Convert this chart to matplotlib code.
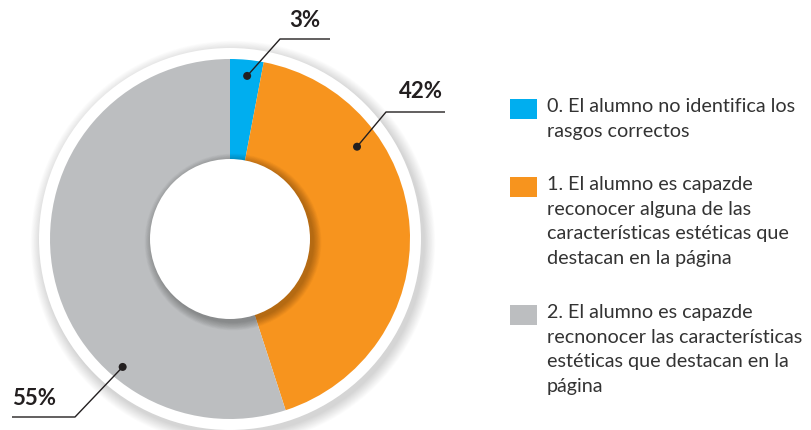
import numpy as np
import matplotlib
matplotlib.use("Agg")
import matplotlib.pyplot as plt
from matplotlib.patches import Circle, Rectangle

# ---- data ----
categories = [
    "0. El alumno no identifica los\nrasgos correctos",
    "1. El alumno es capazde\nreconocer alguna de las\ncaracterísticas estéticas que\ndestacan en la página",
    "2. El alumno es capazde\nrecnonocer las características\nestéticas que destacan en la\npágina",
]
values = [3, 42, 55]
pct_labels = ["3%", "42%", "55%"]
colors = ["#00AEEF", "#F7941E", "#BCBEC0"]

W, H = 812, 431
fig = plt.figure(figsize=(W / 100, H / 100), dpi=100)
ax = fig.add_axes([0, 0, 1, 1])
ax.set_xlim(0, W)
ax.set_ylim(0, H)
ax.set_aspect("equal")
ax.axis("off")

cx, cy = 230, H - 240
R = 180
r_hole = 80

# outer shadow + white ring
for k in range(14, 0, -1):
    ax.add_patch(Circle((cx + 3, cy - 4), 191 + k * 0.8, color="#000000",
                        alpha=0.012, lw=0, zorder=1))
ax.add_patch(Circle((cx, cy), 191, color="white", lw=0, zorder=2))

ax.pie(values, colors=colors, startangle=90, counterclock=False,
       radius=R, center=(cx, cy), wedgeprops=dict(linewidth=0),
       frame=True)
for p in ax.patches[-3:]:
    p.set_zorder(3)
ax.set_xlim(0, W)
ax.set_ylim(0, H)
ax.axis("off")

# hole shadow + hole
for k in range(12, 0, -1):
    ax.add_patch(Circle((cx + 3, cy - 3), r_hole + k * 0.7, color="#000000",
                        alpha=0.025, lw=0, zorder=4))
ax.add_patch(Circle((cx, cy), r_hole, color="white", lw=0, zorder=5))

# leader lines (layout: angle clockwise from top, radius, elbow, end, text)
lc = "#231F20"
leaders = [
    dict(ang=6, rad=164, elbow=(280, 40), end=(330, 40), txt=(305, 20)),
    dict(ang=54, rad=157, elbow=(386, 113), end=(445, 113), txt=(421, 92)),
    dict(ang=220, rad=167, elbow=(75, 418), end=(12, 418), txt=(34, 399)),
]
for lab, ld in zip(pct_labels, leaders):
    a = np.deg2rad(ld["ang"])
    dx = cx + ld["rad"] * np.sin(a)
    dy = cy + ld["rad"] * np.cos(a)
    ex, ey = ld["elbow"][0], H - ld["elbow"][1]
    fx, fy = ld["end"][0], H - ld["end"][1]
    ax.plot([dx, ex, fx], [dy, ey, fy], color=lc, lw=1.0, zorder=6,
            solid_capstyle="butt")
    ax.add_patch(Circle((dx, dy), 4, color=lc, lw=0, zorder=7))
    ax.text(ld["txt"][0], H - ld["txt"][1], lab, ha="center", va="center",
            fontsize=16, fontweight="bold", color=lc, family="Lato", zorder=8)

# legend
leg_y = [100, 178, 306]
for cat, col, y0 in zip(categories, colors, leg_y):
    ax.add_patch(Rectangle((510, H - y0 - 20), 27, 20, color=col, lw=0, zorder=6))
    ax.text(547, H - y0 + 2, cat, ha="left", va="top", fontsize=14.2,
            color="#333333", family="Lato", linespacing=1.54, zorder=8)

fig.savefig("out.png", dpi=100)
